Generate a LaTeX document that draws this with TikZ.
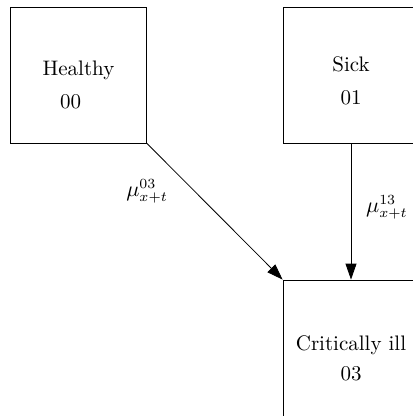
\documentclass[tikz,border=0pt]{standalone}
\usepackage{amsmath}
\usetikzlibrary{positioning,arrows.meta}
\tikzstyle{statebox}=[rectangle,draw=black,minimum size=68pt,inner sep=0pt]
\tikzstyle{stext}=[align=center,inner sep=0pt,font=\fontsize{10.5pt}{12.6pt}\selectfont]
\tikzstyle{trans}=[-{Triangle[length=8pt,width=5.5pt]}]
\tikzstyle{rate}=[font=\fontsize{10.5pt}{12.6pt}\selectfont]

\begin{document}
\begin{tikzpicture}
      \useasboundingbox (-39.25pt,-170.5pt) rectangle (166.75pt,37.5pt);
      \node[statebox] (s_00) at (0,0) {};
      \node[statebox] (s_01) at (136.25pt,0) {};
      \node[statebox] (s_03) at (136.25pt,-136.5pt) {};
      \node[stext] (t_00) at ([yshift=-5pt]s_00.center) {Healthy\\[4pt]00\hspace*{8pt}};
      \node[stext] (t_01) at ([yshift=-3pt]s_01.center) {Sick\\[4pt]01};
      \node[stext] (t_03) at ([yshift=-5pt]s_03.center) {Critically ill\\[2.5pt]03};
      \draw[trans] (s_00.south east) -- node[rate,pos=0.354,left=10pt] {$\mu_{x+t}^{03}$} (s_03.north west);
      \draw[trans] (s_01.south) -- node[rate,pos=0.47,right=4pt] {$\mu_{x+t}^{13}$} (s_03.north);
\end{tikzpicture}
\end{document}
